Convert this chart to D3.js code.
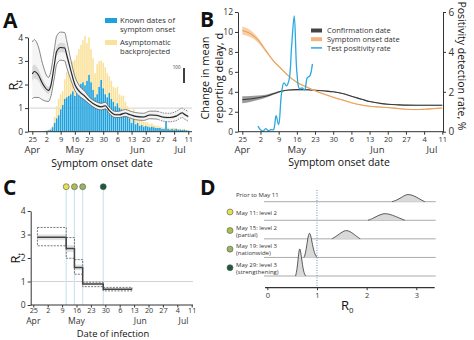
<!DOCTYPE html>
<html>
<head>
<meta charset="utf-8">
<title>Rt, reporting delay and R0 by intervention</title>
<script src="https://cdn.jsdelivr.net/npm/d3@7/dist/d3.min.js"></script>
<style>
  body { margin: 0; background: #fff; }
</style>
</head>
<body>
<div id="chart"></div>
<script>
// ---- data ----

// A: daily cases by symptom onset, starting 25 Apr 2021
const onsetStart = '2021-04-25';
const knownOnset = [
  0, 0, 1, 0, 2, 3, 5, 6, 10, 15,
  30, 60, 90, 110, 150, 180, 220, 230, 240, 250,
  270, 240, 280, 300, 320, 330, 310, 340, 380, 330,
  280, 230, 250, 300, 345, 290, 250, 230, 260, 220,
  200, 170, 190, 160, 150, 140, 110, 100, 90, 60,
  120, 50, 60, 40, 45, 35, 40, 35, 30, 35,
  30, 25, 25, 25, 20, 20, 70, 20, 15, 20,
  15, 20, 15, 15, 12, 15, 10, 8
];
const asymptomatic = [
  0, 0, 0, 0, 0, 1, 1, 2, 3, 6,
  10, 40, 80, 110, 100, 90, 130, 170, 190, 200,
  200, 240, 230, 250, 260, 280, 330, 250, 250, 220,
  210, 160, 200, 170, 130, 170, 180, 160, 110, 120,
  100, 120, 110, 90, 90, 100, 90, 70, 60, 70,
  30, 60, 40, 40, 30, 30, 25, 25, 20, 20,
  15, 15, 15, 10, 10, 8, 5, 8, 8, 5,
  10, 5, 5, 5, 5, 5, 3, 3
];

// A: time-varying Rt
const rtDates = [
  '2021-04-25', '2021-04-26', '2021-04-28', '2021-04-30', '2021-05-03', '2021-05-04',
  '2021-05-06', '2021-05-07', '2021-05-09', '2021-05-11', '2021-05-12', '2021-05-14',
  '2021-05-16', '2021-05-18', '2021-05-21', '2021-05-23', '2021-05-27', '2021-05-29',
  '2021-05-31', '2021-06-02', '2021-06-05', '2021-06-07', '2021-06-10', '2021-06-12',
  '2021-06-15', '2021-06-19', '2021-06-22', '2021-06-25', '2021-06-29', '2021-07-02',
  '2021-07-05', '2021-07-08', '2021-07-09', '2021-07-11'
];
const rtMean = [
  2.45, 2.55, 2.4, 2.05, 1.75, 1.9, 2.9, 3.4, 3.57, 3.55, 3.25, 2.6,
  2.0, 1.73, 1.5, 1.33, 1.1, 1.05, 1.1, 0.9, 0.72, 0.72, 0.79, 0.73,
  0.65, 0.62, 0.71, 0.7, 0.61, 0.6, 0.66, 0.8, 0.74, 0.64
];
const rtLow = [
  1.4, 1.45, 1.45, 1.35, 1.28, 1.45, 2.35, 2.85, 3.03, 3.0, 2.72, 2.2,
  1.75, 1.53, 1.33, 1.18, 0.96, 0.92, 0.97, 0.77, 0.6, 0.6, 0.65, 0.59,
  0.51, 0.48, 0.55, 0.54, 0.44, 0.42, 0.47, 0.6, 0.54, 0.44
];
const rtHigh = [
  3.8, 3.9, 3.6, 2.9, 2.3, 2.5, 3.55, 4.05, 4.22, 4.2, 3.85, 3.05,
  2.35, 1.98, 1.7, 1.48, 1.25, 1.2, 1.25, 1.04, 0.86, 0.87, 0.94, 0.88,
  0.81, 0.78, 0.87, 0.87, 0.79, 0.78, 0.86, 1.0, 0.95, 0.86
];
const rtInner = [
  0.3, 0.3, 0.25, 0.2, 0.15, 0.15, 0.18, 0.2, 0.2, 0.2, 0.17, 0.12,
  0.1, 0.08, 0.06, 0.05, 0.05, 0.05, 0.05, 0.05, 0.05, 0.05, 0.05, 0.05,
  0.05, 0.05, 0.05, 0.05, 0.05, 0.05, 0.05, 0.05, 0.05, 0.06
];

// B: change in mean reporting delay (days)
const delayDates = [
  '2021-04-25', '2021-04-28', '2021-05-01', '2021-05-04', '2021-05-07', '2021-05-10',
  '2021-05-13', '2021-05-16', '2021-05-20', '2021-05-23', '2021-05-27', '2021-05-30',
  '2021-06-03', '2021-06-06', '2021-06-10', '2021-06-13', '2021-06-17', '2021-06-20',
  '2021-06-24', '2021-06-27', '2021-07-01', '2021-07-04', '2021-07-08', '2021-07-11'
];
const delayConfirm = [
  3.2, 3.28, 3.4, 3.55, 3.8, 4.05, 4.18, 4.22, 4.2, 4.15, 4.08, 4.0,
  3.8, 3.55, 3.25, 3.02, 2.84, 2.75, 2.69, 2.66, 2.65, 2.65, 2.65, 2.65
];
const delayConfirmCI = [
  0.35, 0.3, 0.22, 0.15, 0.1, 0.08, 0.06, 0.06, 0.05, 0.05, 0.05, 0.05,
  0.05, 0.05, 0.05, 0.05, 0.05, 0.05, 0.05, 0.05, 0.05, 0.05, 0.05, 0.05
];
const delayOnset = [
  10.15, 9.85, 9.2, 8.15, 7.1, 6.3, 5.55, 4.95, 4.45, 4.1, 3.72, 3.45,
  3.15, 2.9, 2.67, 2.55, 2.47, 2.42, 2.32, 2.25, 2.22, 2.25, 2.32, 2.37
];
const delayOnsetCI = [
  0.4, 0.35, 0.25, 0.15, 0.1, 0.08, 0.07, 0.06, 0.06, 0.06, 0.06, 0.06,
  0.06, 0.06, 0.06, 0.06, 0.06, 0.06, 0.06, 0.06, 0.06, 0.06, 0.06, 0.06
];

// B: test positivity rate (%), daily from 1 May
const positivityStart = '2021-05-01';
const positivity = [
  0.28, 0.1, 0.03, 0.15, 0.05, 0.1, 0.1, 0.8, 0.35, 1.8, 2.45,
  2.3, 2.6, 4.3, 5.8, 3.0, 2.15, 2.2, 2.1, 2.7, 2.8, 3.4
];

// C: piecewise-constant Rt by date of infection
const stepStarts = ['2021-04-27', '2021-05-11', '2021-05-15', '2021-05-19', '2021-05-29'];
const stepEnd = '2021-06-12';
const stepMean = [2.88, 2.4, 1.6, 0.89, 0.67];
const stepLow = [2.52, 1.99, 1.31, 0.78, 0.6];
const stepHigh = [3.3, 2.87, 1.93, 0.97, 0.75];
const stepInnerLow = [2.76, 2.25, 1.48, 0.84, 0.64];
const stepInnerHigh = [3.0, 2.55, 1.72, 0.93, 0.71];
const interventionDates = ['2021-05-11', '2021-05-15', '2021-05-19', '2021-05-29'];

// D: posterior R0 for each period, [R0, density]
const r0Labels = [
  ['Prior to May 11'],
  ['May 11: level 2'],
  ['May 15: level 2', '(partial)'],
  ['May 19: level 3', '(nationwide)'],
  ['May 29: level 3', '(strengthening)']
];
const r0Density = [
  [[2.51, 0], [2.6, 0.5], [2.7, 1.5], [2.78, 2.4], [2.83, 2.6], [2.9, 2.45], [3.0, 1.7], [3.1, 0.6], [3.17, 0]],
  [[2.03, 0], [2.12, 0.6], [2.22, 1.6], [2.32, 2.3], [2.38, 2.4], [2.46, 2.2], [2.58, 1.4], [2.7, 0.5], [2.77, 0]],
  [[1.3, 0], [1.38, 0.8], [1.47, 2.0], [1.55, 2.9], [1.6, 3.0], [1.66, 2.7], [1.74, 1.7], [1.82, 0.6], [1.87, 0]],
  [[0.74, 0], [0.77, 1.5], [0.8, 5.0], [0.83, 8.3], [0.855, 8.9], [0.88, 7.5], [0.92, 3.5], [0.96, 1.0], [1.0, 0]],
  [[0.57, 0], [0.6, 2.5], [0.62, 6.0], [0.64, 9.3], [0.655, 9.9], [0.67, 9.0], [0.7, 5.0], [0.73, 1.5], [0.77, 0]]
];

// tick labels
const monthLabels = [['Apr', '2021-04-25'], ['May', '2021-05-16'], ['Jun', '2021-06-16'], ['Jul', '2021-07-07']];
const rtTicks = [0, 1, 2, 3, 4];
const delayTicks = [0, 2, 4, 6, 8, 10, 12];
const positivityTicks = [0, 2, 4, 6];
const r0Ticks = [0, 1, 2, 3];

// ---- styles ----
const FONT = "'Open Sans', sans-serif";
const ink = '#333';
const barColors = ['#1ea1dc', '#fbe29c'];
const blue = '#2aa8df';
const orange = '#e9a25e';
const dotColors = ['#e2e34c', '#aac04e', '#97b55e', '#1d5a3a'];
const intFmt = d3.format('d');

const parse = d3.utcParse('%Y-%m-%d');
const firstDay = parse('2021-04-25');
const lastDay = parse('2021-07-11');
const weekTicks = d3.utcSunday.range(firstDay, d3.utcDay.offset(lastDay, 1));

const svg = d3.select('#chart').append('svg')
  .attr('width', 474).attr('height', 340)
  .attr('font-family', FONT);
const defs = svg.append('defs');

function panelLetter(t, x, y) {
  svg.append('text').attr('x', x).attr('y', y)
    .attr('font-size', 21).attr('font-weight', 700).attr('fill', '#111').text(t);
}

function dateAxis(x, y0, left, right, opts) {
  const g = svg.append('g').attr('transform', `translate(0,${y0})`)
    .call(d3.axisBottom(x).tickValues(weekTicks).tickFormat(d3.utcFormat('%-d'))
      .tickSize(opts.tick || 3).tickPadding(opts.pad));
  g.attr('font-family', FONT).attr('font-size', opts.tickFont || 7.5);
  g.select('.domain').remove();
  g.selectAll('.tick line').attr('stroke', ink);
  g.selectAll('.tick text').attr('fill', ink);
  g.append('line').attr('x1', left).attr('x2', right).attr('stroke', ink);
  g.selectAll('.month').data(monthLabels).join('text')
    .attr('class', 'month')
    .attr('x', d => x(parse(d[1]))).attr('y', opts.monthDy)
    .attr('font-size', opts.monthSize || 9.5).attr('fill', ink).attr('text-anchor', 'middle')
    .text(d => d[0]);
  g.append('text').attr('x', opts.titleX).attr('y', opts.titleDy)
    .attr('font-size', opts.titleSize || 10.5).attr('fill', '#111').attr('text-anchor', 'middle')
    .text(opts.title);
}

function valueAxis(axis, xPos, size) {
  const g = svg.append('g').attr('transform', `translate(${xPos},0)`)
    .call(axis.tickFormat(intFmt).tickSize(3).tickSizeOuter(0));
  g.attr('font-family', FONT).attr('font-size', size);
  g.selectAll('.domain, .tick line').attr('stroke', ink);
  g.selectAll('.tick text').attr('fill', ink);
  return g;
}

function rLabel(x, y, sub, size, rotate) {
  const t = svg.append('text')
    .attr('transform', `translate(${x},${y})` + (rotate ? ' rotate(-90)' : ''))
    .attr('text-anchor', 'middle').attr('font-size', size).attr('fill', '#111');
  t.append('tspan').text('R');
  t.append('tspan').attr('font-size', size * 0.6).attr('dy', size * 0.25).text(sub);
}

// ---- A ----
const xA = d3.scaleUtc().domain([firstDay, lastDay]).range([32.3, 188.3]);
const yA = d3.scaleLinear().domain([0, 4]).range([131.7, 37.3]);
const yCases = d3.scaleLinear().domain([0, 100]).range([131.7, 116.7]);

svg.append('line').attr('x1', 28).attr('x2', 192)
  .attr('y1', yA(1)).attr('y2', yA(1)).attr('stroke', '#d2d2d2');

const onsetRows = knownOnset.map((v, i) => ({
  date: d3.utcDay.offset(parse(onsetStart), i), known: v, asym: asymptomatic[i]
}));
const stacked = d3.stack().keys(['known', 'asym'])(onsetRows);
svg.append('g').selectAll('g').data(stacked).join('g')
  .attr('fill', (d, i) => barColors[i])
  .selectAll('rect').data(d => d).join('rect')
  .attr('x', d => xA(d.data.date) - 0.8).attr('width', 1.6)
  .attr('y', d => yCases(d[1]))
  .attr('height', d => yCases(d[0]) - yCases(d[1]));

const rtRows = rtDates.map((d, i) => ({
  date: parse(d), mean: rtMean[i], lo: rtLow[i], hi: rtHigh[i], w: rtInner[i]
}));
const smooth = d3.curveMonotoneX;
svg.append('path').datum(rtRows).attr('fill', '#f5f5f5')
  .attr('d', d3.area().curve(smooth).x(d => xA(d.date)).y0(d => yA(d.lo)).y1(d => yA(d.hi)));
svg.append('path').datum(rtRows).attr('fill', '#d9d9d9')
  .attr('d', d3.area().curve(smooth).x(d => xA(d.date)).y0(d => yA(d.mean - d.w)).y1(d => yA(d.mean + d.w)));

// bounds are solid, then dashed once data become incomplete
const cutX = xA(parse('2021-06-26'));
defs.append('clipPath').attr('id', 'solidPart').append('rect')
  .attr('x', 0).attr('y', 0).attr('width', cutX).attr('height', 340);
defs.append('clipPath').attr('id', 'dashPart').append('rect')
  .attr('x', cutX).attr('y', 0).attr('width', 474 - cutX).attr('height', 340);
['lo', 'hi'].forEach(k => {
  const line = d3.line().curve(smooth).x(d => xA(d.date)).y(d => yA(d[k]));
  svg.append('path').datum(rtRows).attr('d', line).attr('fill', 'none')
    .attr('stroke', '#555').attr('stroke-width', 0.7).attr('clip-path', 'url(#solidPart)');
  svg.append('path').datum(rtRows).attr('d', line).attr('fill', 'none')
    .attr('stroke', '#555').attr('stroke-width', 0.7).attr('stroke-dasharray', '1.5,1')
    .attr('clip-path', 'url(#dashPart)');
});
svg.append('path').datum(rtRows).attr('fill', 'none')
  .attr('stroke', '#222').attr('stroke-width', 1.1)
  .attr('d', d3.line().curve(smooth).x(d => xA(d.date)).y(d => yA(d.mean)));

valueAxis(d3.axisLeft(yA).tickValues(rtTicks).tickPadding(2), 28, 8.5);
rLabel(18, 85, 't', 13, true);
dateAxis(xA, 131.7, 28, 192, { pad: 2, monthDy: 21, titleDy: 35, titleX: 102, title: 'Symptom onset date' });

// legend and scale bar
const legA = [
  { y: 18, color: barColors[0], lines: ['Known dates of', 'symptom onset'] },
  { y: 40, color: barColors[1], lines: ['Asymptomatic', 'backprojected'] }
];
legA.forEach(l => {
  svg.append('rect').attr('x', 105).attr('y', l.y).attr('width', 12).attr('height', 5).attr('fill', l.color);
  l.lines.forEach((s, j) => svg.append('text').attr('x', 120).attr('y', l.y + 5.3 + j * 9)
    .attr('font-size', 7.6).attr('fill', ink).text(s));
});
svg.append('text').attr('x', 180.5).attr('y', 69).attr('font-size', 4.5)
  .attr('text-anchor', 'end').attr('fill', ink).text('100');
svg.append('line').attr('x1', 184).attr('x2', 184)
  .attr('y1', 68).attr('y2', 68 + yCases(0) - yCases(100))
  .attr('stroke', '#111').attr('stroke-width', 1.6);
panelLetter('A', 3, 28);

// ---- B ----
const xB = d3.scaleUtc().domain([firstDay, lastDay]).range([242.3, 442.3]);
const yDelay = d3.scaleLinear().domain([0, 12]).range([131.7, 12]);
const yPos = d3.scaleLinear().domain([0, 6]).range([131.7, 12]);

const delayRows = delayDates.map((d, i) => ({
  date: parse(d), conf: delayConfirm[i], confW: delayConfirmCI[i],
  onset: delayOnset[i], onsetW: delayOnsetCI[i]
}));
[['conf', 'confW', '#9a9a9a', '#3a3a3a'], ['onset', 'onsetW', '#f6cfa6', orange]].forEach(([k, w, band, col]) => {
  svg.append('path').datum(delayRows).attr('fill', band)
    .attr('d', d3.area().curve(smooth).x(d => xB(d.date))
      .y0(d => yDelay(d[k] - d[w])).y1(d => yDelay(d[k] + d[w])));
  svg.append('path').datum(delayRows).attr('fill', 'none').attr('stroke', col).attr('stroke-width', 1.1)
    .attr('d', d3.line().curve(smooth).x(d => xB(d.date)).y(d => yDelay(d[k])));
});

const posRows = positivity.map((v, i) => ({ date: d3.utcDay.offset(parse(positivityStart), i), v }));
svg.append('path').datum(posRows).attr('fill', 'none').attr('stroke', blue).attr('stroke-width', 1.3)
  .attr('d', d3.line().curve(d3.curveCatmullRom).x(d => xB(d.date)).y(d => yPos(d.v)));

valueAxis(d3.axisLeft(yDelay).tickValues(delayTicks).tickPadding(2), 238, 8.5);
valueAxis(d3.axisRight(yPos).tickValues(positivityTicks).tickPadding(2.5), 443, 10);
dateAxis(xB, 131.7, 238, 443, { pad: 2, monthDy: 21, titleDy: 34, titleX: 339, title: 'Symptom onset date' });

[['Change in mean', 205], ['reporting delay, d', 219]].forEach(([s, x]) => {
  svg.append('text').attr('transform', `translate(${x},78) rotate(-90)`)
    .attr('text-anchor', 'middle').attr('dy', '0.35em').attr('font-size', 11).attr('fill', '#111').text(s);
});
svg.append('text').attr('transform', 'translate(458,66) rotate(90)')
  .attr('text-anchor', 'middle').attr('font-size', 10.5).attr('fill', '#111')
  .text('Positivity detection rate, %');

const legB = [['Confirmation date', '#444'], ['Symptom onset date', '#f0b47c'], ['Test positivity rate', blue]];
legB.forEach(([s, c], i) => {
  const y = 30.5 + i * 8.7;
  if (i < 2) {
    svg.append('rect').attr('x', 311).attr('y', y - 2).attr('width', 11).attr('height', 4).attr('fill', c);
  } else {
    svg.append('line').attr('x1', 311).attr('x2', 322).attr('y1', y).attr('y2', y)
      .attr('stroke', c).attr('stroke-width', 1.5);
  }
  svg.append('text').attr('x', 327).attr('y', y + 2.7).attr('font-size', 7.5).attr('fill', ink).text(s);
});
panelLetter('B', 200, 27);

// ---- C ----
const xC = d3.scaleUtc().domain([firstDay, lastDay]).range([33.3, 191.7]);
const yC = d3.scaleLinear().domain([0, 4]).range([305, 211]);

svg.append('line').attr('x1', 30.7).attr('x2', 193)
  .attr('y1', yC(1)).attr('y2', yC(1)).attr('stroke', '#d2d2d2');
svg.append('g').selectAll('line').data(interventionDates).join('line')
  .attr('x1', d => xC(parse(d))).attr('x2', d => xC(parse(d)))
  .attr('y1', 190).attr('y2', 305).attr('stroke', '#cfe5ee').attr('stroke-width', 1.2);
svg.append('g').selectAll('circle').data(interventionDates).join('circle')
  .attr('cx', d => xC(parse(d))).attr('cy', 186.7).attr('r', 3)
  .attr('fill', (d, i) => dotColors[i]).attr('stroke', '#555').attr('stroke-width', 0.6);

const steps = stepStarts.map((d, i) => ({
  start: parse(d), end: parse(stepStarts[i + 1] || stepEnd),
  mean: stepMean[i], lo: stepLow[i], hi: stepHigh[i], inLo: stepInnerLow[i], inHi: stepInnerHigh[i]
}));
svg.append('g').selectAll('rect').data(steps).join('rect')
  .attr('x', d => xC(d.start)).attr('width', d => xC(d.end) - xC(d.start))
  .attr('y', d => yC(d.inHi)).attr('height', d => yC(d.inLo) - yC(d.inHi))
  .attr('fill', '#e2e2e2');
svg.append('g').selectAll('rect').data(steps).join('rect')
  .attr('x', d => xC(d.start)).attr('width', d => xC(d.end) - xC(d.start))
  .attr('y', d => yC(d.hi)).attr('height', d => yC(d.lo) - yC(d.hi))
  .attr('fill', 'none').attr('stroke', '#555').attr('stroke-width', 0.8).attr('stroke-dasharray', '2,1.2');
const stepPts = steps.map(d => [d.start, d.mean]).concat([[parse(stepEnd), stepMean[stepMean.length - 1]]]);
svg.append('path').datum(stepPts).attr('fill', 'none').attr('stroke', '#444').attr('stroke-width', 1.5)
  .attr('d', d3.line().curve(d3.curveStepAfter).x(d => xC(d[0])).y(d => yC(d[1])));

valueAxis(d3.axisLeft(yC).tickValues(rtTicks).tickPadding(2), 30.7, 8.5);
rLabel(20, 258, 't', 13, true);
dateAxis(xC, 305, 30.7, 193, {
  tick: 2.5, pad: 0.5, tickFont: 7.2, monthSize: 8.6, monthDy: 19.4,
  titleDy: 32, titleSize: 9.4, titleX: 113, title: 'Date of infection'
});
panelLetter('C', 3, 195);

// ---- D ----
const xD = d3.scaleLinear().domain([0, 3]).range([267.3, 416.3]);
const rowY = d3.scalePoint().domain(d3.range(r0Labels.length)).range([201.7, 276]);
const dens = v => v * 2.8;

svg.append('line').attr('x1', xD(1)).attr('x2', xD(1)).attr('y1', 190).attr('y2', 287.7)
  .attr('stroke', '#5a7cc4').attr('stroke-width', 0.9).attr('stroke-dasharray', '1,1.5');

r0Density.forEach((pts, i) => {
  const base = rowY(i);
  svg.append('line').attr('x1', 264).attr('x2', 435.7).attr('y1', base).attr('y2', base)
    .attr('stroke', '#a0a0a0').attr('stroke-width', 0.9);
  svg.append('path').datum(pts).attr('fill', '#d9d9d9')
    .attr('d', d3.area().curve(d3.curveBasis).x(d => xD(d[0])).y0(base).y1(d => base - dens(d[1])));
  svg.append('path').datum(pts).attr('fill', 'none').attr('stroke', '#333').attr('stroke-width', 0.8)
    .attr('d', d3.line().curve(d3.curveBasis).x(d => xD(d[0])).y(d => base - dens(d[1])));

  const lines = r0Labels[i];
  lines.forEach((s, j) => {
    const y = lines.length === 1 ? base - 4.8 : base - 9.3 + j * 7;
    svg.append('text').attr('x', 236).attr('y', y).attr('font-size', 6).attr('fill', ink).text(s);
  });
  if (i > 0) {
    svg.append('circle').attr('cx', 230).attr('cy', base - 8.3).attr('r', 3)
      .attr('fill', dotColors[i - 1]).attr('stroke', '#555').attr('stroke-width', 0.6);
  }
});

const gD = svg.append('g').attr('transform', 'translate(0,287.7)')
  .call(d3.axisBottom(xD).tickValues(r0Ticks).tickFormat(intFmt).tickSize(2.5).tickPadding(2));
gD.attr('font-family', FONT).attr('font-size', 7.5);
gD.select('.domain').remove();
gD.selectAll('.tick line').attr('stroke', ink);
gD.selectAll('.tick text').attr('fill', ink);
gD.append('line').attr('x1', 265).attr('x2', 434.7).attr('stroke', ink).attr('stroke-width', 1.2);
rLabel(347.3, 310, '0', 13, false);
panelLetter('D', 200, 195);
</script>
</body>
</html>
